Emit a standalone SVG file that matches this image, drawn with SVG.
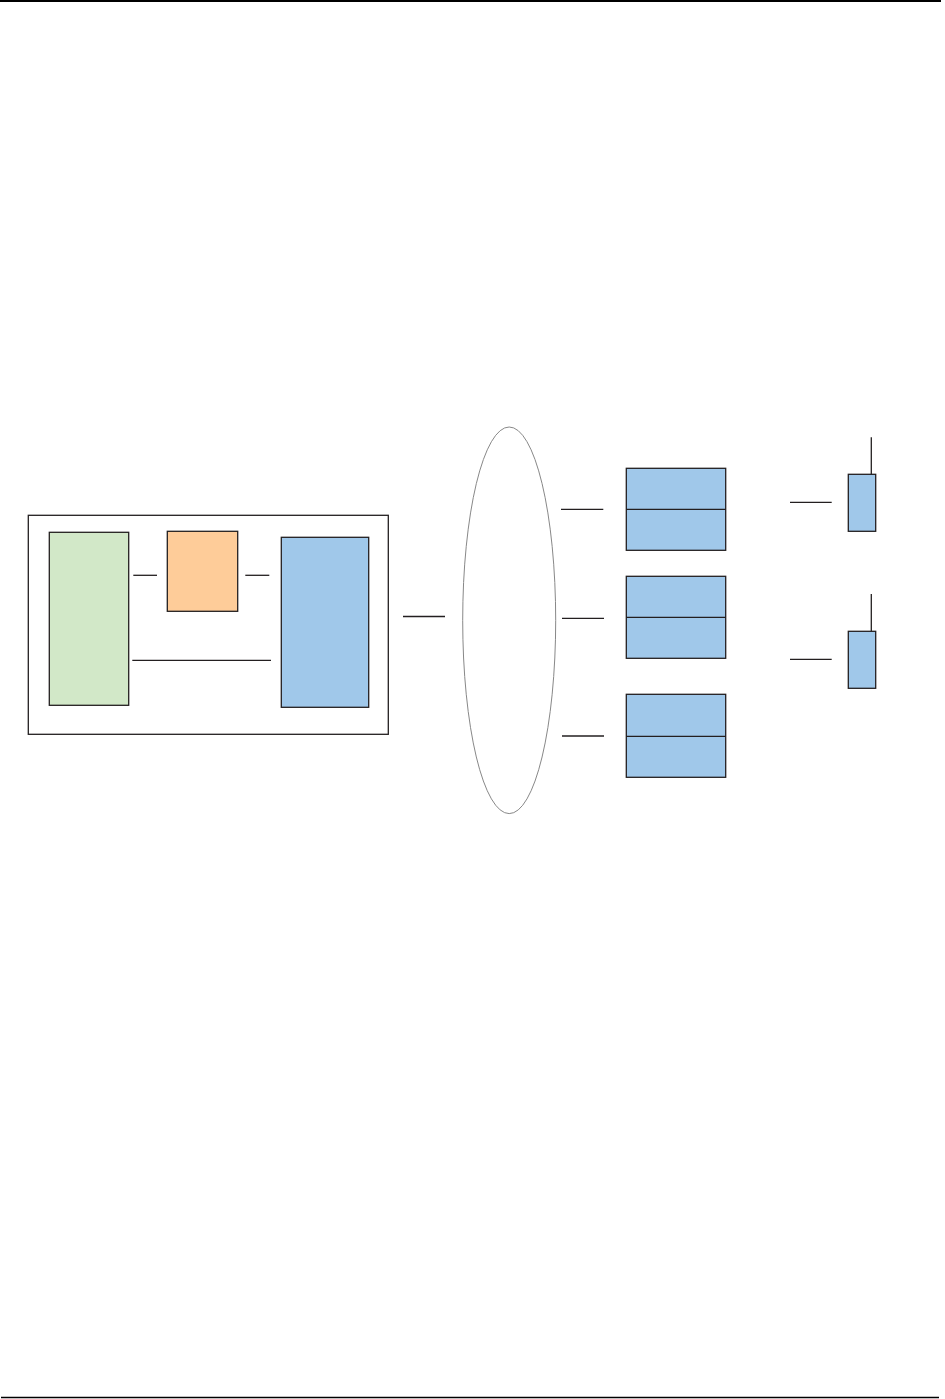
<svg xmlns="http://www.w3.org/2000/svg" width="945" height="1399" viewBox="0 0 945 1399">
<style>
.b{stroke:#231F20;stroke-width:1.3;}
.c{stroke:#231F20;stroke-width:1.3;fill:none;}
.blue{fill:#A0C8EA;}
</style>
<rect width="945" height="1399" fill="#fff"/>
<line x1="0" y1="1" x2="941" y2="1" stroke="#000" stroke-width="2"/>
<line x1="1" y1="1397.5" x2="939" y2="1397.5" stroke="#000" stroke-width="1.6"/>
<g id="host">
<rect x="28.3" y="515.3" width="360" height="219" fill="#fff" class="b"/>
</g>
<g id="green"><rect x="49.3" y="532.3" width="79.4" height="173" fill="#D2E8C8" class="b"/></g>
<g id="orange"><rect x="167.3" y="531.3" width="70.4" height="80" fill="#FECC99" class="b"/></g>
<g id="blue"><rect x="281.3" y="537.3" width="87.4" height="170" class="b blue"/></g>
<g id="cloud"><ellipse cx="509.2" cy="620.3" rx="46.5" ry="193.3" fill="none" stroke="#888" stroke-width="1"/></g>
<g id="box1"><rect x="626.3" y="468.3" width="99.4" height="82" class="b blue"/><line x1="626.3" y1="509.3" x2="725.7" y2="509.3" class="c"/></g>
<g id="box2"><rect x="626.3" y="576.3" width="99.4" height="82" class="b blue"/><line x1="626.3" y1="617.3" x2="725.7" y2="617.3" class="c"/></g>
<g id="box3"><rect x="626.3" y="694.3" width="99.4" height="83" class="b blue"/><line x1="626.3" y1="736.3" x2="725.7" y2="736.3" class="c"/></g>
<g id="dev1"><rect x="848.3" y="474.3" width="27.4" height="57" class="b blue"/><line x1="871.3" y1="437.3" x2="871.3" y2="474.3" class="c"/></g>
<g id="dev2"><rect x="848.3" y="631.3" width="27.4" height="57" class="b blue"/><line x1="871.3" y1="594" x2="871.3" y2="631.3" class="c"/></g>
<g id="connectors">
<line x1="133.3" y1="575.3" x2="157" y2="575.3" class="c"/>
<line x1="245.3" y1="575.3" x2="269.3" y2="575.3" class="c"/>
<line x1="132.3" y1="660.3" x2="271" y2="660.3" class="c"/>
<line x1="403" y1="616.5" x2="445" y2="616.5" class="c"/>
<line x1="561" y1="509.3" x2="603.3" y2="509.3" class="c"/>
<line x1="562" y1="618.3" x2="604" y2="618.3" class="c"/>
<line x1="562" y1="736" x2="604" y2="736" class="c"/>
<line x1="790" y1="502.3" x2="831.7" y2="502.3" class="c"/>
<line x1="790" y1="659.3" x2="831.7" y2="659.3" class="c"/>
</g>
</svg>
